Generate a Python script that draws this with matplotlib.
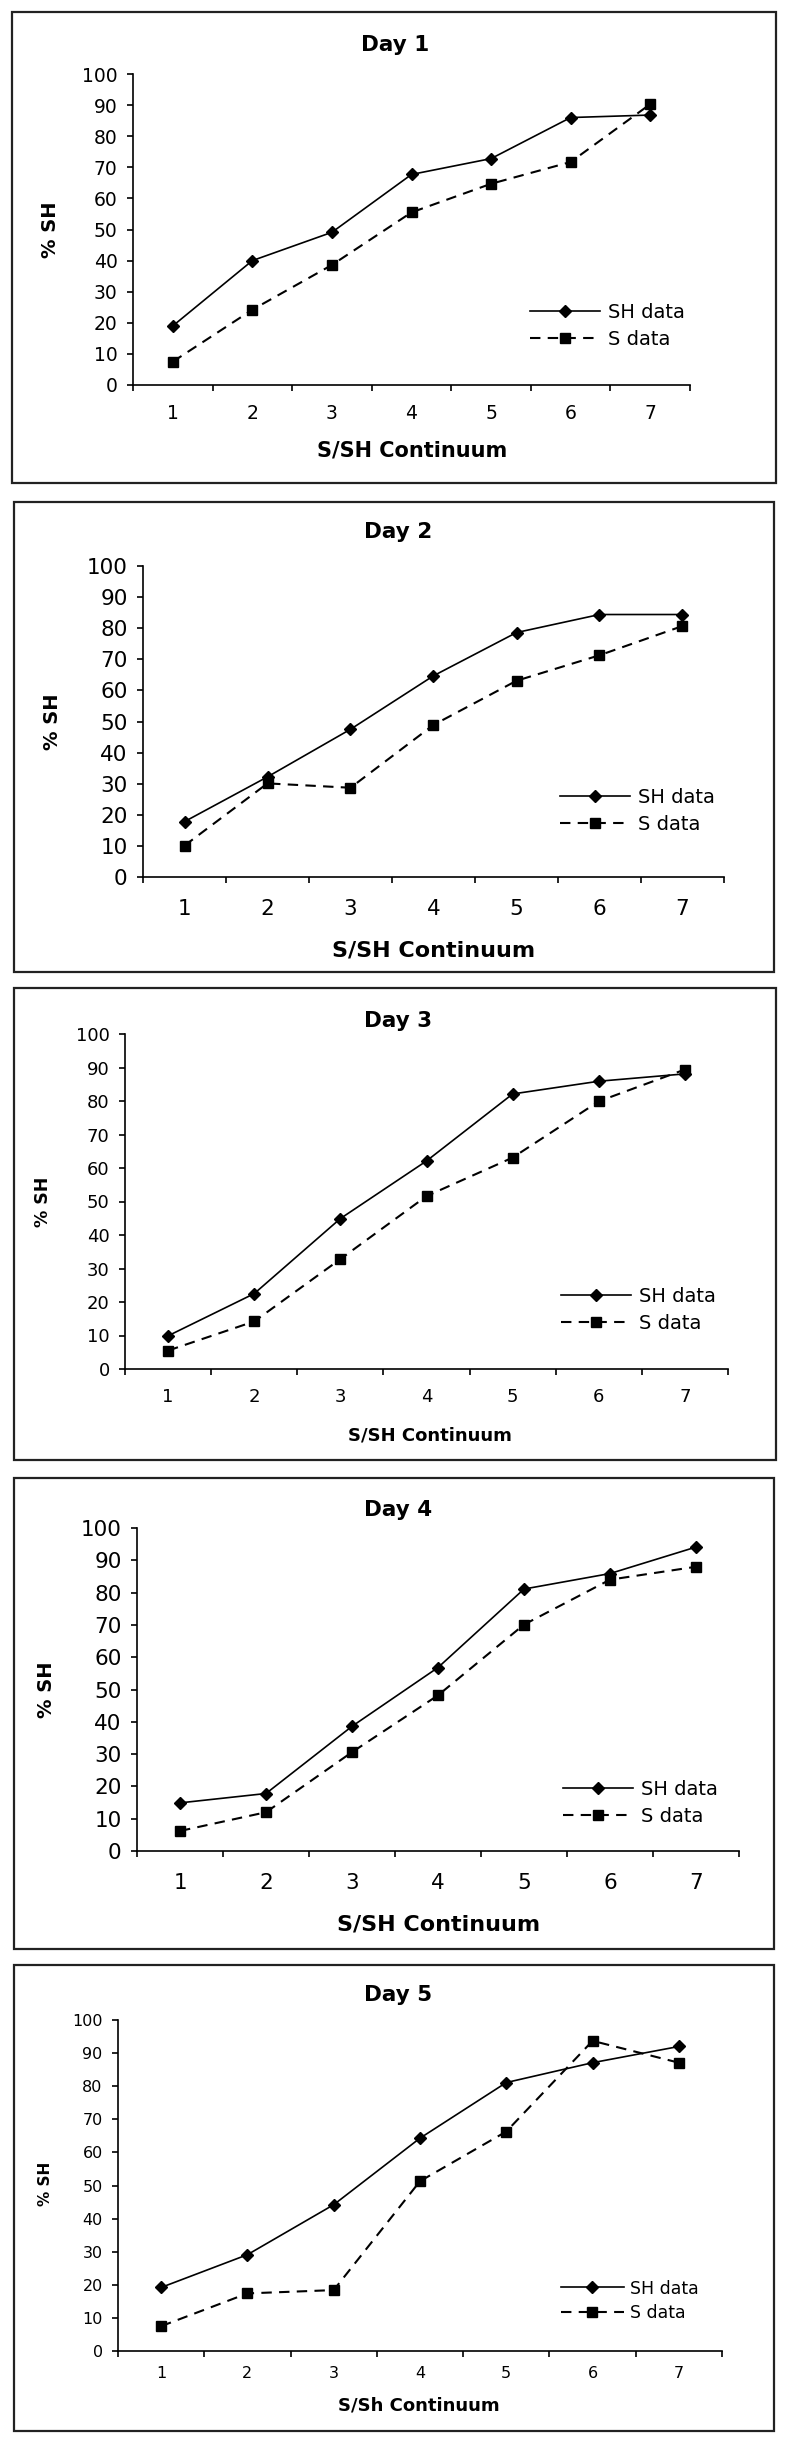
import numpy as np
import matplotlib
matplotlib.use("Agg")
import matplotlib.pyplot as plt
from matplotlib.patches import Rectangle

# data (% SH responses per continuum step)
categories = [1, 2, 3, 4, 5, 6, 7]
day_titles = ["Day 1", "Day 2", "Day 3", "Day 4", "Day 5"]
xlabels = ["S/SH Continuum", "S/SH Continuum", "S/SH Continuum",
           "S/SH Continuum", "S/Sh Continuum"]
y_ticks = [0, 10, 20, 30, 40, 50, 60, 70, 80, 90, 100]
series_names = ["SH data", "S data"]

sh_day1 = [19.0, 40.0, 49.1, 67.7, 72.8, 86.0, 86.8]
s_day1 = [7.5, 24.2, 38.6, 55.5, 64.7, 71.7, 90.3]
sh_day2 = [17.8, 32.2, 47.5, 64.7, 78.6, 84.4, 84.4]
s_day2 = [10.1, 30.1, 28.7, 48.9, 63.1, 71.3, 80.7]
sh_day3 = [9.9, 22.5, 44.9, 62.1, 82.1, 85.9, 88.1]
s_day3 = [5.5, 14.2, 32.8, 51.6, 63.1, 79.9, 89.4]
sh_day4 = [14.9, 17.8, 38.6, 56.8, 81.1, 85.9, 94.1]
s_day4 = [6.2, 12.0, 30.6, 48.2, 70.1, 84.0, 88.0]
sh_day5 = [19.2, 29.1, 44.2, 64.3, 81.1, 87.1, 92.0]
s_day5 = [7.5, 17.4, 18.4, 51.3, 66.3, 93.7, 87.1]

sh_all = [sh_day1, sh_day2, sh_day3, sh_day4, sh_day5]
s_all = [s_day1, s_day2, s_day3, s_day4, s_day5]

W, H = 800, 2445

# layout per panel in pixels (from the top):
# box (l, t, r, b), axes (l, r, y100, y0), title/xlabel/ylabel centres,
# legend anchor, font sizes (tick, legend, xlabel, ylabel), xtick pad
layout = [
    dict(box=(12, 12, 776, 483), ax=(133, 690, 74, 385),
         title=(395, 45), xlab=(412, 450), ylab=(51, 230), leg=(530, 326),
         fs=(13.5, 14, 15, 14), xpad=14),
    dict(box=(14, 502, 774, 972), ax=(143, 724, 566, 877),
         title=(398, 532), xlab=(434, 950), ylab=(53, 722), leg=(560, 811),
         fs=(15.5, 14, 16, 14), xpad=16),
    dict(box=(14, 988, 776, 1460), ax=(125, 728, 1034, 1369),
         title=(398, 1021), xlab=(430, 1435), ylab=(43, 1202), leg=(561, 1310),
         fs=(13, 14, 13, 12.5), xpad=14),
    dict(box=(14, 1478, 774, 1949), ax=(137, 739, 1528, 1851),
         title=(398, 1510), xlab=(439, 1924), ylab=(46, 1690), leg=(563, 1803),
         fs=(15.5, 14, 16, 14), xpad=16),
    dict(box=(14, 1965, 774, 2431), ax=(118, 722, 2020, 2351),
         title=(398, 1995), xlab=(419, 2406), ylab=(46, 2184), leg=(561, 2301),
         fs=(11.5, 12.5, 13, 11), xpad=11),
]


def fx(x):
    return x / W


def fy(y):
    return 1 - y / H


fig = plt.figure(figsize=(W / 100, H / 100), dpi=100)
fig.patch.set_facecolor("white")

for i, lay in enumerate(layout):
    bl, bt, br, bb = lay["box"]
    fig.patches.append(Rectangle((fx(bl), fy(bb)), fx(br - bl), (bb - bt) / H,
                                 transform=fig.transFigure, fill=False,
                                 edgecolor="#222222", linewidth=1.6))

    al, ar, atop, abot = lay["ax"]
    ax = fig.add_axes([fx(al), fy(abot), fx(ar - al), (abot - atop) / H])
    tick_fs, leg_fs, xlab_fs, ylab_fs = lay["fs"]

    ax.plot(categories, sh_all[i], color="black", linewidth=1.2,
            marker="D", markersize=6.3, label=series_names[0])
    ax.plot(categories, s_all[i], color="black", linewidth=1.5,
            linestyle=(0, (5, 3.5)), marker="s", markersize=7,
            label=series_names[1])

    ax.set_xlim(0.5, 7.5)
    ax.set_ylim(0, 100)
    ax.spines["top"].set_visible(False)
    ax.spines["right"].set_visible(False)
    ax.spines["left"].set_linewidth(1.2)
    ax.spines["bottom"].set_linewidth(1.2)

    ax.set_xticks(categories)
    ax.set_xticklabels([str(c) for c in categories])
    ax.set_xticks(np.arange(0.5, 8.0, 1.0), minor=True)
    ax.tick_params(axis="x", which="major", length=0, pad=lay["xpad"],
                   labelsize=tick_fs)
    ax.tick_params(axis="x", which="minor", length=4, width=1.2,
                   direction="out")
    ax.set_yticks(y_ticks)
    ax.tick_params(axis="y", length=4, width=1.2, direction="out", pad=7,
                   labelsize=tick_fs)

    ax.legend(loc="center left", bbox_to_anchor=(fx(lay["leg"][0]), fy(lay["leg"][1])),
              bbox_transform=fig.transFigure, frameon=False, fontsize=leg_fs,
              borderpad=0, borderaxespad=0, handlelength=3.6,
              handletextpad=0.4, labelspacing=0.4)

    tx, ty = lay["title"]
    fig.text(fx(tx), fy(ty), day_titles[i], ha="center", va="center",
             fontsize=15.5, fontweight="bold")
    xx, xy = lay["xlab"]
    fig.text(fx(xx), fy(xy), xlabels[i], ha="center", va="center",
             fontsize=xlab_fs, fontweight="bold")
    yx, yy = lay["ylab"]
    fig.text(fx(yx), fy(yy), "% SH", ha="center", va="center",
             rotation=90, fontsize=ylab_fs, fontweight="bold")

fig.savefig("out.png", dpi=100, facecolor="white")
